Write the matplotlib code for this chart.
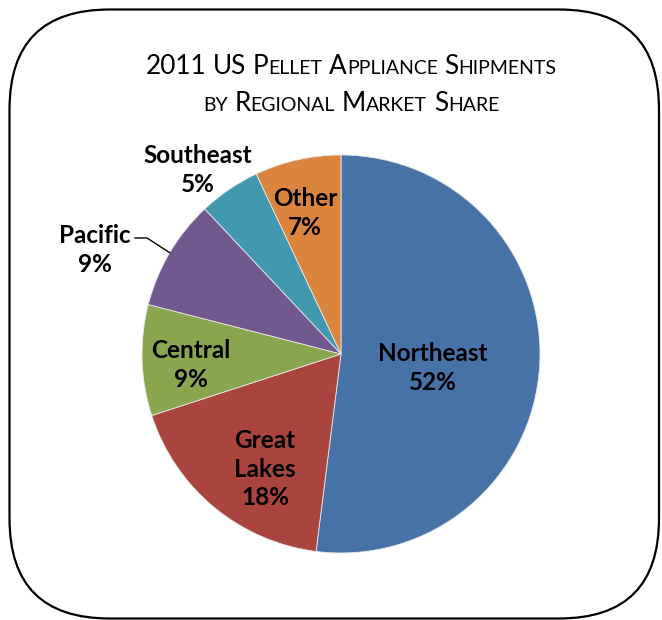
import matplotlib
matplotlib.use("Agg")
import numpy as np
import matplotlib.pyplot as plt
from matplotlib.patches import FancyBboxPatch

plt.rcParams['font.family'] = ['Lato', 'DejaVu Sans']

# data
regions = ["Northeast", "Great Lakes", "Central", "Pacific", "Southeast", "Other"]
shares = [52, 18, 9, 9, 5, 7]
colors = ["#4672A8", "#A9443F", "#89A54E", "#71588F", "#4198AF", "#DB843D"]
label_text = ["Northeast", "Great\nLakes", "Central", "Pacific", "Southeast", "Other"]
# label centres in pie units (radius = 1)
label_pos = [(0.462, -0.07), (-0.382, -0.578), (-0.754, -0.055),
             (-1.236, 0.523), (-0.719, 0.925), (-0.181, 0.709)]

W, H = 662, 620
fig = plt.figure(figsize=(W / 100, H / 100), dpi=100)

# rounded border
bg = fig.add_axes([0, 0, 1, 1])
bg.set_xlim(0, W)
bg.set_ylim(H, 0)
bg.axis("off")
bg.add_patch(FancyBboxPatch((9.5, 9.5), 649.5, 609, boxstyle="round,pad=0,rounding_size=100",
                            fc="white", ec="black", lw=1.6))

# title in small caps
def small_caps(y, words, big=18.8, small=14):
    pieces = []
    for i, w in enumerate(words):
        if i > 0:
            pieces.append((" ", big))
        if w.isdigit() or w.isupper():
            pieces.append((w, big))
        else:
            if w[0].isupper():
                pieces.append((w[0], big))
                rest = w[1:]
            else:
                rest = w
            if rest:
                pieces.append((rest.upper(), small))
    r = fig.canvas.get_renderer()
    texts = []
    for s, fs in pieces:
        t = bg.text(0, y, s, fontsize=fs, ha="left", va="baseline", color="black")
        texts.append(t)
    widths = [t.get_window_extent(r).width for t in texts]
    # spaces are not measured well, handle them
    sp = bg.text(0, y, "a a", fontsize=big).get_window_extent(r).width - \
         bg.text(0, y, "aa", fontsize=big).get_window_extent(r).width
    for t in bg.texts[-2:]:
        t.remove()
    widths = [sp if p[0] == " " else w for p, w in zip(pieces, widths)]
    x = 351 - sum(widths) / 2
    for t, w in zip(texts, widths):
        t.set_x(x)
        x += w

small_caps(74, ["2011", "US", "Pellet", "Appliance", "Shipments"])
small_caps(111, ["by", "Regional", "Market", "Share"])

# pie
cx, cy, R = 341, 354, 199
ax = fig.add_axes([(cx - R) / W, (H - cy - R) / H, 2 * R / W, 2 * R / H])
wedges, _ = ax.pie(shares, colors=colors, startangle=90, counterclock=False,
                   wedgeprops=dict(edgecolor="#e8e8e8", linewidth=0.6))
ax.set_xlim(-1, 1)
ax.set_ylim(-1, 1)
ax.set_clip_on(False)

for name, txt, v, (lx, ly) in zip(regions, label_text, shares, label_pos):
    ax.text(lx, ly, f"{txt}\n{v}%", ha="center", va="center", fontsize=17.5,
            fontweight="bold", color="black", linespacing=1.3, clip_on=False)

# leader line for Pacific
w = wedges[regions.index("Pacific")]
mid = np.deg2rad((w.theta1 + w.theta2) / 2)
ex, ey = np.cos(mid), np.sin(mid)
ax.plot([-1.035, -0.975, ex], [0.583, 0.583, ey], color="black", lw=1, clip_on=False)

fig.savefig("out.png", dpi=100)
